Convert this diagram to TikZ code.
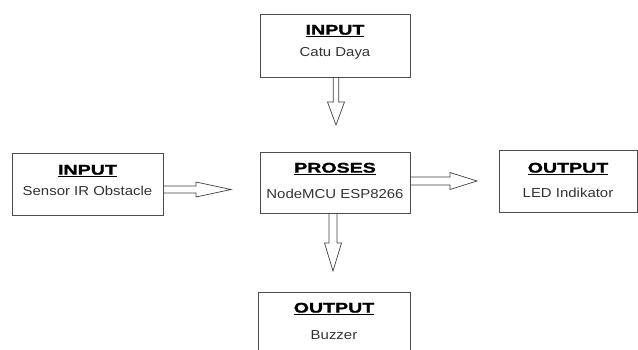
\documentclass[tikz,border=0pt]{standalone}
\usepackage{fontspec}
\setmainfont{Liberation Sans}
\newfontfamily\heavyfont{Liberation Sans Bold}[FakeBold=1.2]
\usetikzlibrary{calc,positioning}

\newcommand{\boxtitle}[1]{\underline{\scalebox{1.4}[1]{#1}}}
\newcommand{\boxtext}[1]{\scalebox{1.15}[1]{#1}}
% hollow block arrow: from, to, half shaft, half head, head length
\newcommand{\blkarrow}[5]{%
  \coordinate (hb) at ($(#2)!#5!(#1)$);
  \draw[blkline] ($(#1)!#3!90:(#2)$) -- ($(hb)!#3!-90:(#1)$) -- ($(hb)!#4!-90:(#1)$)
    -- (#2) -- ($(hb)!#4!90:(#1)$) -- ($(hb)!#3!90:(#1)$) -- ($(#1)!#3!-90:(#2)$);
}

\begin{document}
\begin{tikzpicture}[x=1pt,y=-1pt]

\tikzset{box/.style = {draw=black!70, line width=0.8pt, minimum width=150pt, minimum height=63pt, inner sep=0pt}}
\tikzset{ttl/.style = {anchor=base, inner sep=0pt, font=\fontsize{14}{16}\selectfont\heavyfont}}
\tikzset{sub/.style = {anchor=base, inner sep=0pt, text=black!80, font=\fontsize{13}{15}\selectfont}}
\tikzset{blkline/.style = {draw=black!75, line width=0.7pt, line join=miter}}

\useasboundingbox (0,0) rectangle (638,349);
\clip (0,0) rectangle (638,349);

% boxes
\node[box] (catu) at (335,45.5) {};
\node[box, minimum width=151pt, minimum height=62pt] (sensor) at (87.5,184) {};
\node[box, minimum height=61pt] (proses) at (335,182.5) {};
\node[box, minimum width=138pt, minimum height=62pt] (led) at (568,181) {};
\node[box, minimum width=152pt] (buzzer) at (334,323.5) {};

% texts
\node[ttl] (catuT) at ($(catu.north)+(0,21)$) {\boxtitle{INPUT}};
\node[sub] (catuS) at ($(catu.north)+(0,43)$) {\boxtext{Catu Daya}};
\node[ttl] (sensorT) at ($(sensor.north)+(0,22)$) {\boxtitle{INPUT}};
\node[sub] (sensorS) at ($(sensor.north)+(0,43)$) {\boxtext{Sensor IR Obstacle}};
\node[ttl] (prosesT) at ($(proses.north)+(0,21)$) {\boxtitle{PROSES}};
\node[sub] (prosesS) at ($(proses.north)+(0,47)$) {\boxtext{NodeMCU ESP8266}};
\node[ttl] (ledT) at ($(led.north)+(0,23)$) {\boxtitle{OUTPUT}};
\node[sub] (ledS) at ($(led.north)+(0,48)$) {\boxtext{LED Indikator}};
\node[ttl] (buzzerT) at ($(buzzer.north)+(0,21)$) {\boxtitle{OUTPUT}};
\node[sub] (buzzerS) at ($(buzzer.north)+(0,48)$) {\boxtext{Buzzer}};

% arrow tips
\coordinate (tipA) at (336,125);
\coordinate (tipB) at (231,189.5);
\coordinate (tipC) at (477,181);
\coordinate (tipD) at (333,271);

% arrows
\blkarrow{catu.south -| tipA}{tipA}{2.7pt}{8.5pt}{23pt}
\blkarrow{sensor.east |- tipB}{tipB}{3.5pt}{7.5pt}{35pt}
\blkarrow{proses.east |- tipC}{tipC}{4pt}{8.5pt}{27pt}
\blkarrow{proses.south -| tipD}{tipD}{4pt}{8.5pt}{28pt}

\end{tikzpicture}
\end{document}
